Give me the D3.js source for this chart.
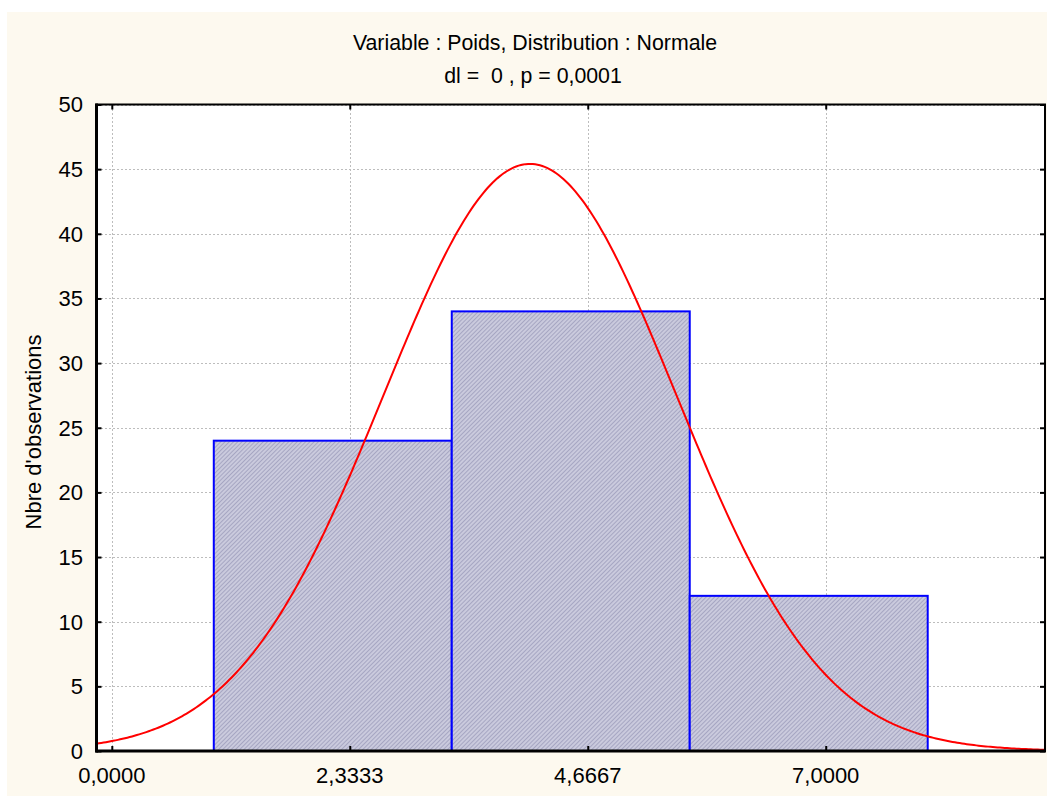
<!DOCTYPE html>
<html>
<head>
<meta charset="utf-8">
<script src="https://cdn.jsdelivr.net/npm/d3@7"></script>
<style>
  html, body { margin: 0; padding: 0; background: #ffffff; }
  svg { display: block; font-family: "Liberation Sans", Arial, sans-serif; }
</style>
</head>
<body>
<svg id="chart" width="1047" height="796"></svg>
<script>
// ---- data ----
const binStarts = [1.0, 3.3333, 5.6667];
const binEnds   = [3.3333, 5.6667, 8.0];
const counts    = [24, 34, 12];
const xTicks = [0, 2.3333, 4.6667, 7.0];
const xTickLabels = ["0,0000", "2,3333", "4,6667", "7,0000"];
const yTicks = [0, 5, 10, 15, 20, 25, 30, 35, 40, 45, 50];
const xDomain = [-0.15, 9.15];
const yDomain = [0, 50];
// fitted normal parameters
const normalMean = [4.1];
const normalSd = [1.435];
const titleLines = ["Variable : Poids, Distribution : Normale", "dl =  0 , p = 0,0001"];
const yLabel = "Nbre d'observations";

// ---- layout ----
const svg = d3.select("#chart");
const L = 96.5, R = 1045, T = 104.5, B = 751;

svg.append("rect").attr("x", 7).attr("y", 12).attr("width", 1040).attr("height", 784)
  .attr("fill", "#fdf9ef");

const defs = svg.append("defs");
const pat = defs.append("pattern").attr("id", "hatch").attr("patternUnits", "userSpaceOnUse")
  .attr("width", 3).attr("height", 3).attr("patternTransform", "rotate(45)");
pat.append("rect").attr("width", 3).attr("height", 3).attr("fill", "#cacadd");
pat.append("rect").attr("width", 1).attr("height", 3).attr("fill", "#a6a6c2");

const x = d3.scaleLinear().domain(xDomain).range([L, R]);
const y = d3.scaleLinear().domain(yDomain).range([B, T]);

svg.append("rect").attr("x", L).attr("y", T).attr("width", R - L).attr("height", B - T)
  .attr("fill", "#ffffff");

// grid
const grid = svg.append("g").attr("stroke", "#bdbdbd").attr("stroke-width", 1)
  .attr("stroke-dasharray", "2,2").attr("shape-rendering", "crispEdges");
yTicks.forEach(v => grid.append("line").attr("x1", L).attr("x2", R)
  .attr("y1", Math.round(y(v)) + 0.5).attr("y2", Math.round(y(v)) + 0.5));
xTicks.forEach(v => grid.append("line").attr("y1", T).attr("y2", B)
  .attr("x1", Math.round(x(v)) + 0.5).attr("x2", Math.round(x(v)) + 0.5));

// bars
svg.append("g").selectAll("rect").data(counts).join("rect")
  .attr("x", (d, i) => x(binStarts[i]))
  .attr("y", d => y(d))
  .attr("width", (d, i) => x(binEnds[i]) - x(binStarts[i]))
  .attr("height", d => y(0) - y(d))
  .attr("fill", "url(#hatch)")
  .attr("stroke", "#0000ff").attr("stroke-width", 2);

// normal curve
const N = d3.sum(counts);
const bw = binEnds[0] - binStarts[0];
const mu = normalMean[0], sd = normalSd[0];
const xs = d3.range(0, 401).map(i => xDomain[0] + (xDomain[1] - xDomain[0]) * i / 400);
const curve = xs.map(v => [v, N * bw / (sd * Math.sqrt(2 * Math.PI)) * Math.exp(-0.5 * ((v - mu) / sd) ** 2)]);
svg.append("path").datum(curve)
  .attr("d", d3.line().x(d => x(d[0])).y(d => y(d[1])))
  .attr("fill", "none").attr("stroke", "#ff0000").attr("stroke-width", 2);

// axes (ticks inward on all sides)
const axL = d3.axisRight(y).tickValues(yTicks).tickSize(5).tickFormat("");
const axR = d3.axisLeft(y).tickValues(yTicks).tickSize(5).tickFormat("");
const axB = d3.axisTop(x).tickValues(xTicks).tickSize(5).tickFormat("");
const axT = d3.axisBottom(x).tickValues(xTicks).tickSize(5).tickFormat("");
function style(g) {
  g.select(".domain").remove();
  g.selectAll("line").attr("stroke", "#000").attr("stroke-width", 2);
}
svg.append("g").attr("transform", `translate(${L},0)`).call(axL).call(style);
svg.append("g").attr("transform", `translate(${R},0)`).call(axR).call(style);
svg.append("g").attr("transform", `translate(0,${B})`).call(axB).call(style);
svg.append("g").attr("transform", `translate(0,${T})`).call(axT).call(style);

// frame
svg.append("rect").attr("x", L).attr("y", T).attr("width", R - L).attr("height", B - T)
  .attr("fill", "none").attr("stroke", "#000").attr("stroke-width", 2);
svg.append("line").attr("x1", L).attr("x2", L).attr("y1", T - 1).attr("y2", B + 1.5)
  .attr("stroke", "#000").attr("stroke-width", 3);
svg.append("line").attr("x1", L - 1).attr("x2", R + 1).attr("y1", B).attr("y2", B)
  .attr("stroke", "#000").attr("stroke-width", 3);

// tick labels
svg.append("g").selectAll("text").data(yTicks).join("text")
  .attr("x", 83).attr("y", d => y(d)).attr("dy", "0.36em")
  .attr("text-anchor", "end").attr("font-size", 22).attr("fill", "#000")
  .text(d => d);
svg.append("g").selectAll("text").data(xTicks).join("text")
  .attr("x", d => x(d)).attr("y", 783)
  .attr("text-anchor", "middle").attr("font-size", 22).attr("fill", "#000")
  .text((d, i) => xTickLabels[i]);

// titles
svg.append("text").attr("x", 535).attr("y", 50).attr("text-anchor", "middle")
  .attr("font-size", 21.3).attr("fill", "#000").text(titleLines[0]);
svg.append("text").attr("x", 533).attr("y", 83).attr("text-anchor", "middle")
  .attr("font-size", 21.3).attr("fill", "#000").style("white-space", "pre").text(titleLines[1]);

svg.append("text").attr("transform", "translate(41,432) rotate(-90)")
  .attr("text-anchor", "middle").attr("font-size", 22).attr("fill", "#000").text(yLabel);
</script>
</body>
</html>
